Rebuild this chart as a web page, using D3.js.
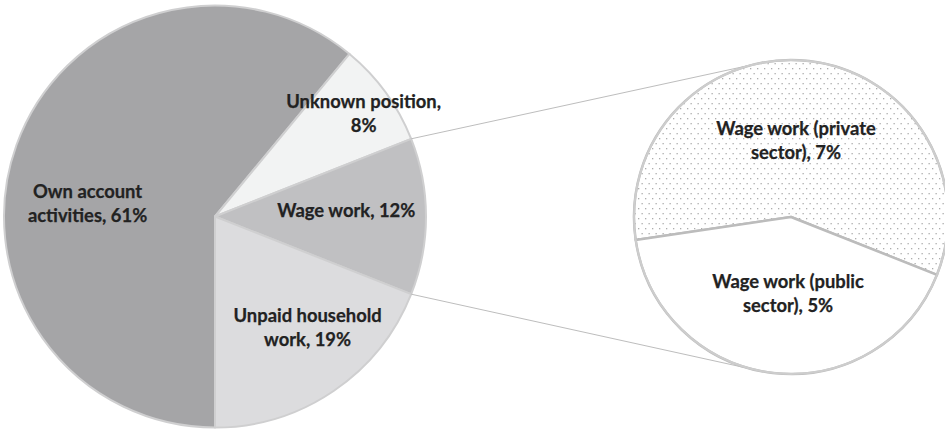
<!DOCTYPE html>
<html>
<head>
<meta charset="utf-8">
<script src="https://cdn.jsdelivr.net/npm/d3@7"></script>
<style>
  html, body { margin: 0; padding: 0; background: #fff; }
  svg { display: block; }
  text { font-family: Lato, "Open Sans", sans-serif; font-weight: 700; fill: #222222; stroke: #222222; stroke-width: 0.25px; }
</style>
</head>
<body>
<svg id="chart" width="945" height="429"></svg>
<script>
// ---- data ----
const mainCategories = ["Own account activities", "Unknown position", "Wage work", "Unpaid household work"];
const mainValues = [61, 8, 12, 19];
const mainLabels = [["Own account", "activities, 61%"], ["Unknown position,", "8%"], ["Wage work, 12%"], ["Unpaid household", "work, 19%"]];
const subCategories = ["Wage work (private sector)", "Wage work (public sector)"];
const subValues = [7, 5];
const subLabels = [["Wage work (private", "sector), 7%"], ["Wage work (public", "sector), 5%"]];

// ---- layout ----
const W = 945, H = 429;
const mainC = { x: 215, y: 216.5, r: 211 };
const subC = { x: 791, y: 217, r: 157 };
const mainFill = ["#a5a5a7", "#f2f3f3", "#c0c0c2", "#dcdcde"];
// label placement: [angle in degrees clockwise from top, radius fraction]
const mainLabelPolar = [[275.6, 0.607], [55.4, 0.856], [87.4, 0.623], [140.3, 0.687]];
const subLabelPolar = [[3.7, 0.49], [182.2, 0.49]];
const fontSize = 18.4, lineH = 24;

const svg = d3.select("#chart");
const defs = svg.append("defs");
const pat = defs.append("pattern").attr("id", "dots").attr("patternUnits", "userSpaceOnUse")
  .attr("width", 7).attr("height", 10);
pat.append("rect").attr("width", 7).attr("height", 10).attr("fill", "#ffffff");
pat.append("rect").attr("x", 1).attr("y", 1).attr("width", 1.3).attr("height", 1.3).attr("fill", "#adadad");
pat.append("rect").attr("x", 4.5).attr("y", 6).attr("width", 1.3).attr("height", 1.3).attr("fill", "#adadad");

const rad = d => d * Math.PI / 180;

// main pie: starts at bottom (180deg), clockwise
const mainPie = d3.pie().sort(null).value(d => d)
  .startAngle(Math.PI).endAngle(3 * Math.PI);
const mainArcs = mainPie(mainValues);
const mainArc = d3.arc().innerRadius(0).outerRadius(mainC.r);

const gMain = svg.append("g").attr("transform", `translate(${mainC.x},${mainC.y})`);
gMain.selectAll("path").data(mainArcs).join("path")
  .attr("d", mainArc)
  .attr("fill", (d, i) => mainFill[i])
  .attr("stroke", "#cfcfd0").attr("stroke-width", 2).attr("stroke-linejoin", "round");

// the exploded slice is Wage work (index 2)
const wage = mainArcs[2];
const pt = (c, a, r) => [c.x + r * Math.sin(a), c.y - r * Math.cos(a)];
const pTop = pt(mainC, wage.startAngle, mainC.r);
const pBot = pt(mainC, wage.endAngle, mainC.r);

// secondary pie: public slice starts at the same angle the main split ends
const total = d3.sum(subValues);
const pubSpan = 2 * Math.PI * subValues[1] / total;
const subPie = d3.pie().sort(null).value(d => d)
  .startAngle(wage.endAngle + pubSpan)
  .endAngle(wage.endAngle + pubSpan + 2 * Math.PI);
const subArcs = subPie(subValues);
const subArc = d3.arc().innerRadius(0).outerRadius(subC.r);

// connector lines (tangent to secondary circle)
function tangent(p, c, upper) {
  const dx = c.x - p[0], dy = c.y - p[1];
  const dist = Math.hypot(dx, dy);
  const base = Math.atan2(dy, dx);
  const off = Math.asin(c.r / dist);
  const ang = upper ? base - off : base + off;
  const len = Math.sqrt(dist * dist - c.r * c.r);
  return [p[0] + len * Math.cos(ang), p[1] + len * Math.sin(ang)];
}
const tTop = tangent(pTop, subC, true);
const tBot = tangent(pBot, subC, false);
svg.append("line").attr("x1", pTop[0]).attr("y1", pTop[1]).attr("x2", tTop[0]).attr("y2", tTop[1])
  .attr("stroke", "#bdbdbd").attr("stroke-width", 1);
svg.append("line").attr("x1", pBot[0]).attr("y1", pBot[1]).attr("x2", tBot[0]).attr("y2", tBot[1])
  .attr("stroke", "#bdbdbd").attr("stroke-width", 1);

const gSub = svg.append("g").attr("transform", `translate(${subC.x},${subC.y})`);
gSub.selectAll("path").data(subArcs).join("path")
  .attr("d", subArc)
  .attr("fill", (d, i) => i === 0 ? "url(#dots)" : "#ffffff")
  .attr("stroke", "#bcbcbc").attr("stroke-width", 2.5).attr("stroke-linejoin", "round");
gSub.append("circle").attr("r", subC.r).attr("fill", "none").attr("stroke", "#cdcdcd").attr("stroke-width", 2);

// labels
function drawLabel(g, lines, polar, r) {
  const a = rad(polar[0]), f = polar[1];
  const x = r * f * Math.sin(a), y = -r * f * Math.cos(a);
  const t = g.append("text").attr("text-anchor", "middle").attr("font-size", fontSize);
  const n = lines.length;
  lines.forEach((s, i) => {
    t.append("tspan").attr("x", x).attr("y", y + (i - (n - 1) / 2) * lineH)
      .attr("dy", "0.35em").text(s);
  });
}
mainLabels.forEach((l, i) => drawLabel(gMain, l, mainLabelPolar[i], mainC.r));
subLabels.forEach((l, i) => drawLabel(gSub, l, subLabelPolar[i], subC.r));
</script>
</body>
</html>
